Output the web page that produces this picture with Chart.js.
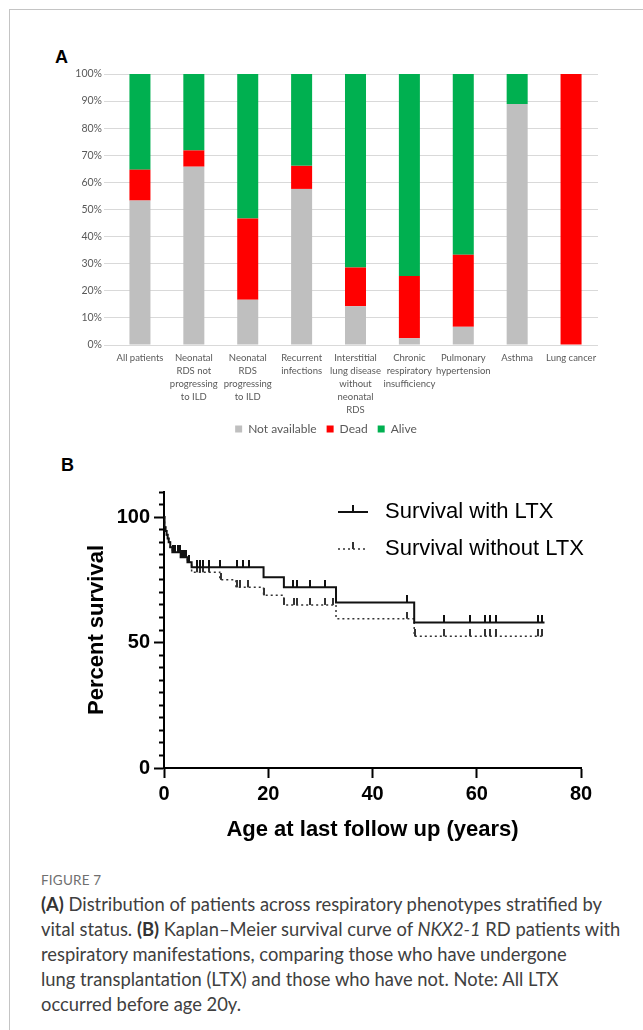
<!DOCTYPE html>
<html><head><meta charset="utf-8">
<script src="https://cdn.jsdelivr.net/npm/chart.js@4.4.1/dist/chart.umd.min.js"></script>
<style>
html,body{margin:0;padding:0;background:#fff;}
body{width:643px;height:1030px;position:relative;overflow:hidden;}
#frame{position:absolute;left:9px;top:9px;width:650px;height:1040px;border-top:1px solid #c4c4c4;border-left:1px solid #c4c4c4;}
.panel{position:absolute;font-family:"Liberation Sans",Arial,sans-serif;font-weight:bold;font-size:18px;color:#000;line-height:18px;}
#cA{position:absolute;left:54px;top:60px;}
#cB{position:absolute;left:70px;top:475px;}
#fig{position:absolute;left:41px;top:872px;font-family:Lato,sans-serif;font-size:13.5px;color:#6f6f6f;letter-spacing:0.2px;}
#cap{position:absolute;left:41px;top:892px;font-family:Lato,sans-serif;font-size:17px;line-height:25px;color:#404040;white-space:nowrap;}
#cap b{font-weight:bold;color:#333;}
</style></head><body>
<div id="frame"></div>
<div class="panel" style="left:55px;top:48px;">A</div>
<canvas id="cA" width="576" height="385"></canvas>
<div class="panel" style="left:61px;top:456px;">B</div>
<canvas id="cB" width="560" height="375"></canvas>
<div id="fig">FIGURE 7</div>
<div id="cap"><span id="l1"><b>(A)</b> Distribution of patients across respiratory phenotypes stratified by</span><br>vital status. <b>(B)</b> Kaplan–Meier survival curve of <i>NKX2-1</i> RD patients with<br>respiratory manifestations, comparing those who have undergone<br>lung transplantation (LTX) and those who have not. Note: All LTX<br>occurred before age 20y.</div>
<script>
// ---------- Panel A data ----------
const categories = [
  ["All patients"],
  ["Neonatal","RDS not","progressing","to ILD"],
  ["Neonatal","RDS","progressing","to ILD"],
  ["Recurrent","infections"],
  ["Interstitial","lung disease","without","neonatal","RDS"],
  ["Chronic","respiratory","insufficiency"],
  ["Pulmonary","hypertension"],
  ["Asthma"],
  ["Lung cancer"]
];
const notAvailable = [53.3, 65.8, 16.7, 57.6, 14.3, 2.5, 6.7, 88.9, 0];
const dead         = [11.4,  6.0, 30.0,  8.5, 14.3, 23.0, 26.6, 0, 100];
const alive        = [35.3, 28.2, 53.3, 33.9, 71.4, 74.5, 66.7, 11.1, 0];
const seriesNames  = ["Not available", "Dead", "Alive"];
const yTicksA      = [0,10,20,30,40,50,60,70,80,90,100];

// ---------- Panel B data ----------
const kmLabels = ["Survival with LTX", "Survival without LTX"];
const ltxTimes = [0, 0.1, 0.3, 0.5, 0.7, 0.9, 1.2, 1.6, 3.2, 4.5, 5.3, 19.1, 23.0, 33.0, 48.0, 73.0];
const ltxSurv  = [100, 96, 94.5, 93, 91.5, 90, 88, 86, 84, 82, 80, 76, 72, 66, 58, 58];
const noLtxTimes = [0, 0.1, 0.3, 0.5, 0.7, 0.9, 1.2, 1.6, 3.2, 4.5, 5.3, 10.7, 13.8, 19.1, 23.0, 33.0, 48.0, 73.0];
const noLtxSurv  = [100, 96, 94.5, 93, 91.5, 90, 88, 86, 84, 82, 78, 75, 72, 68.8, 65, 59.5, 52.5, 52.5];
const ltxCensor   = [1.8, 2.2, 2.6, 3.0, 3.5, 3.9, 4.3, 4.8, 6.4, 6.9, 7.4, 8.7, 10.7, 14.0, 15.1, 16.3, 24.8, 25.6, 28.0, 30.9, 46.7, 53.7, 58.7, 61.6, 62.6, 63.7, 71.7, 72.6];
const noLtxCensor = [1.8, 2.2, 2.6, 3.0, 3.5, 3.9, 4.3, 4.8, 6.4, 6.9, 7.4, 8.7, 10.9, 14.0, 14.6, 16.2, 19.2, 23.1, 25.0, 25.6, 28.0, 30.9, 32.5, 46.7, 48.1, 53.7, 58.7, 61.6, 62.6, 63.7, 71.7, 72.6];
const xTicksB = [0, 20, 40, 60, 80];
const yLabelsB = [0, 50, 100];

Chart.defaults.animation = false;

// ---------- Chart A ----------
new Chart(document.getElementById('cA'), {
  type: 'bar',
  data: {
    labels: categories,
    datasets: [
      {label: seriesNames[0], data: notAvailable, backgroundColor: '#bfbfbf'},
      {label: seriesNames[1], data: dead, backgroundColor: '#ff0000'},
      {label: seriesNames[2], data: alive, backgroundColor: '#00b050'}
    ]
  },
  options: {
    responsive: false,
    events: [],
    layout: {padding: {top: 14, right: 32, left: 0, bottom: 0}},
    datasets: {bar: {barPercentage: 0.39, categoryPercentage: 1}},
    plugins: {
      legend: {
        position: 'bottom',
        labels: {boxWidth: 7, boxHeight: 7, padding: 10, color: '#595959',
                 font: {family: 'Lato', size: 12}}
      },
      tooltip: {enabled: false}
    },
    scales: {
      x: {
        stacked: true,
        grid: {display: false, drawTicks: false},
        border: {display: false},
        ticks: {autoSkip: false, maxRotation: 0, padding: 6, color: '#595959',
                font: {family: 'Lato', size: 9.5, lineHeight: 1.37}},
        afterFit: s => { s.height = 68; }
      },
      y: {
        stacked: true, min: 0, max: 100,
        afterBuildTicks: s => { s.ticks = yTicksA.map(v => ({value: v})); },
        grid: {color: '#d9d9d9', tickColor: '#d9d9d9', tickLength: 9, lineWidth: 1},
        border: {display: false},
        ticks: {padding: 2, color: '#595959', font: {family: 'Lato', size: 10.5},
                callback: v => v + '%'},
        afterFit: s => { s.width = 59; }
      }
    }
  }
});

// ---------- Chart B ----------
function makeTick(color){
  const c = document.createElement('canvas');
  c.width = 2; c.height = 14;
  const g = c.getContext('2d');
  g.fillStyle = color; g.fillRect(0, 0, 2, 7);
  return c;
}
const tickSolid = makeTick('#111');
const tickDot = makeTick('#333');

function survAt(times, surv, t){
  let s = surv[0];
  for (let i = 0; i < times.length; i++) if (times[i] <= t) s = surv[i];
  return s;
}
const toXY = (t, s) => t.map((v, i) => ({x: v, y: s[i]}));

const kmLegend = {
  id: 'kmLegend',
  afterDraw(chart){
    const ctx = chart.ctx, ca = chart.chartArea;
    const ds = chart.data.datasets;
    const x0 = ca.right - 243, x1 = ca.right - 213, tx = ca.right - 196;
    const rows = [{y: ca.top + 20, d: ds[0], img: tickSolid}, {y: ca.top + 57, d: ds[1], img: tickDot}];
    ctx.save();
    rows.forEach(r => {
      ctx.strokeStyle = r.d.borderColor; ctx.lineWidth = r.d.borderWidth;
      ctx.setLineDash(r.d.borderDash || []);
      ctx.beginPath(); ctx.moveTo(x0, r.y); ctx.lineTo(x1, r.y); ctx.stroke();
      ctx.setLineDash([]);
      ctx.drawImage(r.img, (x0 + x1) / 2 - 1, r.y - 7);
      ctx.fillStyle = '#000'; ctx.font = '22px "Liberation Sans"';
      ctx.textBaseline = 'middle'; ctx.textAlign = 'left';
      ctx.fillText(r.d.label, tx, r.y);
    });
    ctx.restore();
  }
};

new Chart(document.getElementById('cB'), {
  type: 'line',
  data: {
    datasets: [
      {label: kmLabels[0], data: toXY(ltxTimes, ltxSurv), stepped: true,
       borderColor: '#111', borderWidth: 2, pointRadius: 0, fill: false},
      {label: kmLabels[1], data: toXY(noLtxTimes, noLtxSurv), stepped: true,
       borderColor: '#333', borderWidth: 1.5, borderDash: [2, 3], pointRadius: 0, fill: false},
      {label: 'censor1', data: ltxCensor.map(t => ({x: t, y: survAt(ltxTimes, ltxSurv, t)})),
       showLine: false, pointStyle: tickSolid, pointRadius: 3},
      {label: 'censor2', data: noLtxCensor.map(t => ({x: t, y: survAt(noLtxTimes, noLtxSurv, t)})),
       showLine: false, pointStyle: tickDot, pointRadius: 3}
    ]
  },
  plugins: [kmLegend],
  options: {
    responsive: false,
    events: [],
    layout: {padding: {top: 17, right: 49, left: 0, bottom: 0}},
    plugins: {legend: {display: false}, tooltip: {enabled: false}},
    scales: {
      x: {
        type: 'linear', min: 0, max: 80,
        afterBuildTicks: s => { s.ticks = xTicksB.map(v => ({value: v})); },
        grid: {drawOnChartArea: false, color: '#000', tickLength: 10, tickWidth: 2},
        border: {color: '#000', width: 2},
        ticks: {color: '#000', padding: 4, font: {family: 'Liberation Sans', size: 20, weight: 'bold'}},
        title: {display: true, text: 'Age at last follow up (years)', color: '#000',
                padding: {top: 0, bottom: 7}, font: {family: 'Liberation Sans', size: 22, weight: 'bold', lineHeight: 1.2}},
        afterFit: s => { s.height = 82; }
      },
      y: {
        min: 0, max: 110,
        ticks: {stepSize: 5, color: '#000', padding: 4, autoSkip: false,
                font: {family: 'Liberation Sans', size: 20, weight: 'bold'},
                callback: v => yLabelsB.includes(v) ? String(v) : ''},
        grid: {drawOnChartArea: false, color: '#000', tickLength: 10, tickWidth: 2,
               tickBorderDash: c => (c.tick && yLabelsB.includes(c.tick.value)) ? [] : [5, 5],
               tickBorderDashOffset: c => (c.tick && yLabelsB.includes(c.tick.value)) ? 0 : 5},
        border: {color: '#000', width: 2},
        title: {display: true, text: 'Percent survival', color: '#000',
                padding: {top: 14, bottom: 0}, font: {family: 'Liberation Sans', size: 22, weight: 'bold', lineHeight: 1.2}},
        afterFit: s => { s.width = 94; }
      }
    }
  }
});

// fit caption width
(function(){
  const l1 = document.getElementById('l1');
  const cap = document.getElementById('cap');
  const w = l1.getBoundingClientRect().width;
  if (w > 0) cap.style.fontSize = (17 * 561 / w).toFixed(2) + 'px';
})();
</script>
</body></html>
